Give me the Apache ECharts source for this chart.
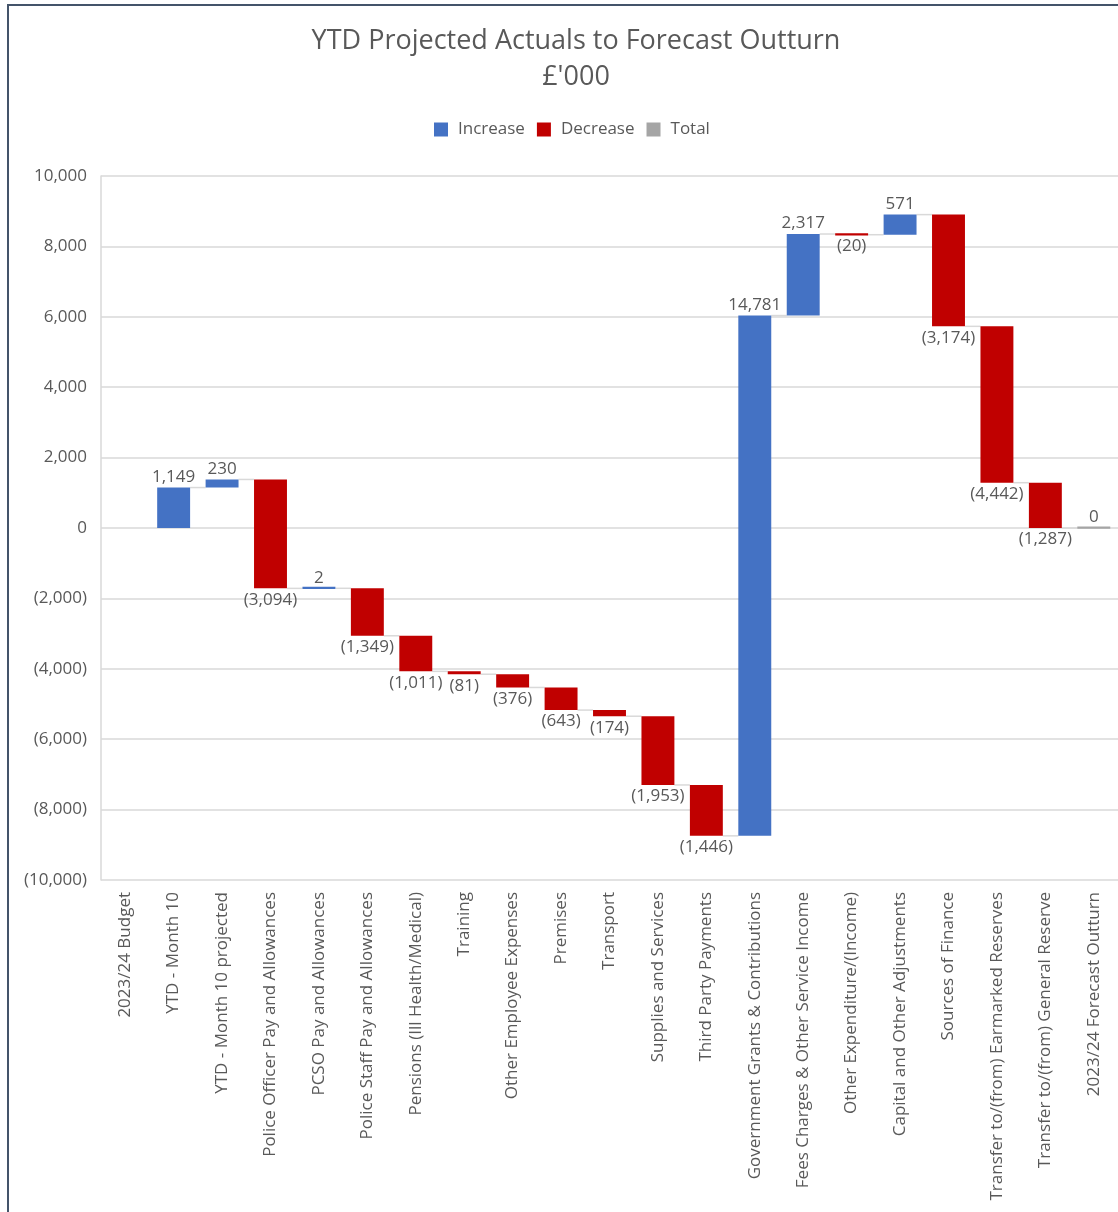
<!DOCTYPE html>
<html>
<head>
<meta charset="utf-8">
<script src="https://cdn.jsdelivr.net/npm/echarts@6/dist/echarts.min.js"></script>
<style>
  html, body { margin: 0; padding: 0; background: #fff; }
  #waterfall { width: 1118px; height: 1212px; }
</style>
</head>
<body>
<div id="waterfall"></div>
<script>
const categories = [
  '2023/24 Budget',
  'YTD - Month 10',
  'YTD - Month 10 projected',
  'Police Officer Pay and Allowances',
  'PCSO Pay and Allowances',
  'Police Staff Pay and Allowances',
  'Pensions (Ill Health/Medical)',
  'Training',
  'Other Employee Expenses',
  'Premises',
  'Transport',
  'Supplies and Services',
  'Third Party Payments',
  'Government Grants & Contributions',
  'Fees Charges & Other Service Income',
  'Other Expenditure/(Income)',
  'Capital and Other Adjustments',
  'Sources of Finance',
  'Transfer to/(from) Earmarked Reserves',
  'Transfer to/(from) General Reserve',
  '2023/24 Forecast Outturn'
]
const changes = [0, 1149, 230, -3094, 2, -1349, -1011, -81, -376, -643, -174, -1953, -1446, 14781, 2317, -20, 571, -3174, -4442, -1287, 0]
const isTotal = [true, false, false, false, false, false, false, false, false, false, false, false, false, false, false, false, false, false, false, false, true]
// the budget step has no visible bar or label in the source
const shown = [false, true, true, true, true, true, true, true, true, true, true, true, true, true, true, true, true, true, true, true, true]
const yTicks = { min: -10000, max: 10000, interval: 2000 }

const colors = { Increase: '#4472c4', Decrease: '#c00000', Total: '#a5a5a5' }
const textColor = '#595959'
const fontFamily = '"Open Sans", "Noto Sans", sans-serif'

function fmt (v) {
  const s = Math.abs(v).toLocaleString('en-GB')
  return v < 0 ? '(' + s + ')' : s
}

// build start/end for each step
const increaseData = []
const decreaseData = []
const totalData = []
let running = 0
changes.forEach((v, i) => {
  if (isTotal[i]) {
    totalData.push([i, 0, running, v])
  } else {
    const start = running
    running += v
    if (v >= 0) increaseData.push([i, start, running, v])
    else decreaseData.push([i, start, running, v])
  }
})

function renderStep (params, api) {
  const i = api.value(0)
  if (!shown[i]) return { type: 'group', children: [] }
  const start = api.value(1)
  const end = api.value(2)
  const val = api.value(3)
  const p0 = api.coord([i, start])
  const p1 = api.coord([i, end])
  const band = api.size([1, 0])[0]
  const w = band * 0.68
  const top = Math.min(p0[1], p1[1])
  let h = Math.abs(p1[1] - p0[1])
  let y = top
  if (h < 2) { y = p1[1] - 1.5; h = 2.2 }
  const color = api.visual('color')
  const children = [{
    type: 'rect',
    shape: { x: p0[0] - w / 2, y: y, width: w, height: h },
    style: { fill: color }
  }]
  if (i < categories.length - 1) {
    children.push({
      type: 'line',
      shape: { x1: p0[0] + w / 2, y1: p1[1], x2: p0[0] + band - w / 2, y2: p1[1] },
      style: { stroke: '#d9d9d9', lineWidth: 1.5 },
      z2: -1
    })
  }
  const down = val < 0
  children.push({
    type: 'text',
    style: {
      x: p0[0],
      y: down ? Math.max(p0[1], p1[1]) + 3 : Math.min(p0[1], p1[1]) - 2,
      text: fmt(val),
      fill: textColor,
      font: '17px ' + fontFamily,
      align: 'center',
      verticalAlign: down ? 'top' : 'bottom'
    }
  })
  return { type: 'group', children: children }
}

function makeSeries (name, data) {
  return {
    name: name,
    type: 'custom',
    renderItem: renderStep,
    itemStyle: { color: colors[name] },
    encode: { x: 0, y: [1, 2] },
    data: data
  }
}

const myChart = echarts.init(document.getElementById('waterfall'))
const option = {
  animation: false,
  textStyle: { fontFamily: fontFamily },
  title: {
    text: "YTD Projected Actuals to Forecast Outturn\n£'000",
    left: 571,
    textAlign: 'center',
    top: 18,
    textStyle: { fontSize: 27, fontWeight: 'normal', color: textColor, lineHeight: 36, fontFamily: fontFamily }
  },
  legend: {
    top: 121,
    left: 434,
    padding: 0,
    itemWidth: 14,
    itemHeight: 14,
    itemGap: 12,
    icon: 'rect',
    data: ['Increase', 'Decrease', 'Total'],
    textStyle: { fontSize: 17, color: textColor, fontFamily: fontFamily, padding: [0, 0, 0, 5] }
  },
  grid: {
    left: 101,
    width: 1019,
    top: 176,
    bottom: 332
  },
  xAxis: {
    type: 'category',
    data: categories,
    axisLine: { show: false },
    axisTick: { show: false },
    splitLine: { show: false },
    axisLabel: {
      rotate: 90,
      interval: 0,
      margin: 12,
      fontSize: 17,
      color: textColor,
      fontFamily: fontFamily
    }
  },
  yAxis: {
    type: 'value',
    min: yTicks.min,
    max: yTicks.max,
    interval: yTicks.interval,
    axisLine: { show: true, lineStyle: { color: '#d9d9d9', width: 1.5 } },
    axisTick: { show: false },
    splitLine: { lineStyle: { color: '#d9d9d9', width: 1.5 } },
    axisLabel: {
      margin: 14,
      fontSize: 17,
      color: textColor,
      fontFamily: fontFamily,
      formatter: v => fmt(v)
    }
  },
  graphic: [{
    type: 'polyline',
    shape: { points: [[8, 1212], [8, 5], [1118, 5]] },
    style: { stroke: '#44546a', lineWidth: 2, fill: null },
    silent: true
  }],
  series: [
    makeSeries('Increase', increaseData),
    makeSeries('Decrease', decreaseData),
    makeSeries('Total', totalData)
  ]
}
option && myChart.setOption(option)
window.addEventListener('resize', function () {
  myChart.resize()
})
</script>
</body>
</html>
